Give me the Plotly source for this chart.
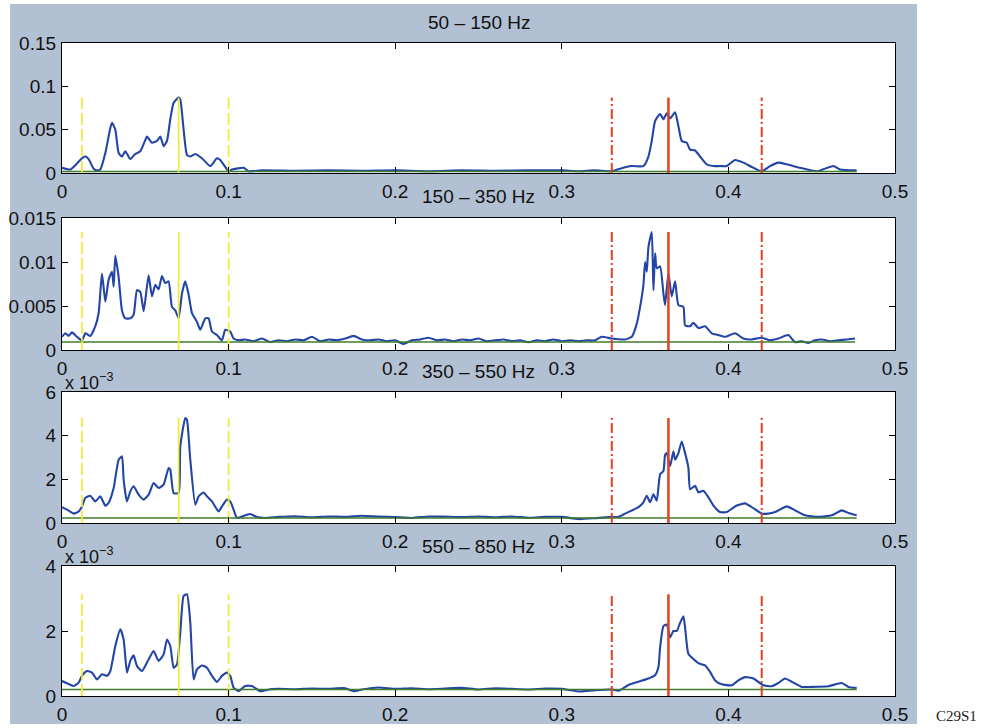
import plotly.graph_objects as go

# ---------------- data ----------------
band_titles = ["50 \u2013 150 Hz", "150 \u2013 350 Hz", "350 \u2013 550 Hz", "550 \u2013 850 Hz"]

p1_x = [0.000, 0.005, 0.009, 0.012, 0.014, 0.016, 0.019, 0.021, 0.023, 0.026, 0.029, 0.030, 0.032, 0.034,
        0.036, 0.038, 0.041, 0.044, 0.047, 0.050, 0.051, 0.054, 0.057, 0.059, 0.061, 0.063, 0.065, 0.067,
        0.070, 0.071, 0.073, 0.075, 0.077, 0.080, 0.084, 0.089, 0.093, 0.095, 0.098, 0.100, 0.102, 0.109,
        0.112, 0.120, 0.140, 0.160, 0.180, 0.200, 0.220, 0.240, 0.260, 0.280, 0.300, 0.310, 0.320, 0.330,
        0.335, 0.342, 0.349, 0.352, 0.354, 0.356, 0.359, 0.361, 0.363, 0.365, 0.368, 0.370, 0.372, 0.375,
        0.377, 0.380, 0.383, 0.387, 0.391, 0.395, 0.399, 0.404, 0.409, 0.414, 0.420, 0.425, 0.430, 0.435,
        0.443, 0.453, 0.463, 0.467, 0.477]
p1_y = [0.006, 0.004, 0.011, 0.017, 0.019, 0.016, 0.005, 0.003, 0.004, 0.023, 0.052, 0.058, 0.050, 0.023,
        0.019, 0.025, 0.016, 0.022, 0.025, 0.038, 0.042, 0.035, 0.037, 0.042, 0.031, 0.037, 0.062, 0.081,
        0.087, 0.085, 0.050, 0.021, 0.019, 0.022, 0.017, 0.008, 0.017, 0.015, 0.007, 0.002, 0.004, 0.006,
        0.002, 0.003, 0.0025, 0.003, 0.0025, 0.003, 0.002, 0.003, 0.0025, 0.003, 0.003, 0.002, 0.003, 0.002,
        0.005, 0.008, 0.008, 0.019, 0.037, 0.060, 0.068, 0.062, 0.069, 0.063, 0.070, 0.054, 0.037, 0.035,
        0.027, 0.026, 0.019, 0.010, 0.008, 0.008, 0.008, 0.015, 0.012, 0.007, 0.002, 0.008, 0.012, 0.010,
        0.006, 0.002, 0.008, 0.004, 0.003]

p2_x = [0.000, 0.002, 0.004, 0.006, 0.009, 0.012, 0.014, 0.017, 0.020, 0.022, 0.024, 0.026, 0.028, 0.030,
        0.031, 0.032, 0.034, 0.036, 0.038, 0.041, 0.043, 0.045, 0.047, 0.049, 0.052, 0.054, 0.056, 0.058,
        0.060, 0.062, 0.064, 0.066, 0.068, 0.070, 0.072, 0.074, 0.076, 0.078, 0.081, 0.083, 0.086, 0.088,
        0.090, 0.093, 0.096, 0.098, 0.101, 0.103, 0.106, 0.110, 0.115, 0.120, 0.125, 0.130, 0.135, 0.140,
        0.145, 0.150, 0.155, 0.160, 0.165, 0.170, 0.175, 0.180, 0.185, 0.190, 0.195, 0.200, 0.205, 0.210,
        0.215, 0.220, 0.225, 0.230, 0.235, 0.240, 0.245, 0.250, 0.255, 0.260, 0.265, 0.270, 0.275, 0.280,
        0.285, 0.290, 0.295, 0.300, 0.305, 0.310, 0.315, 0.320, 0.324, 0.330, 0.338, 0.342, 0.345, 0.347,
        0.349, 0.350, 0.351, 0.352, 0.354, 0.355, 0.356, 0.357, 0.359, 0.361, 0.362, 0.364, 0.366, 0.368,
        0.370, 0.373, 0.374, 0.377, 0.379, 0.382, 0.386, 0.390, 0.394, 0.398, 0.404, 0.409, 0.414, 0.420,
        0.425, 0.430, 0.436, 0.440, 0.444, 0.448, 0.452, 0.456, 0.461, 0.466, 0.471, 0.476]
p2_y = [0.0015, 0.0019, 0.0016, 0.0020, 0.0015, 0.0011, 0.0019, 0.0016, 0.0027, 0.0042, 0.0087, 0.0055,
        0.0080, 0.0089, 0.0072, 0.0107, 0.0083, 0.0045, 0.0036, 0.0036, 0.0040, 0.0068, 0.0066, 0.0044,
        0.0085, 0.0061, 0.0074, 0.0069, 0.0084, 0.0076, 0.0078, 0.0049, 0.0045, 0.0036, 0.0064, 0.0078,
        0.0063, 0.0042, 0.0032, 0.0023, 0.0036, 0.0036, 0.0021, 0.0017, 0.0011, 0.0023, 0.0021, 0.0013,
        0.0011, 0.0012, 0.0010, 0.0013, 0.0009, 0.0011, 0.0010, 0.0012, 0.0011, 0.0015, 0.0010, 0.0012,
        0.0011, 0.0013, 0.0016, 0.0012, 0.0011, 0.0012, 0.0010, 0.0011, 0.0007, 0.0011, 0.0012, 0.0014,
        0.0011, 0.0012, 0.0010, 0.0012, 0.0011, 0.0013, 0.0010, 0.0011, 0.0012, 0.0010, 0.0011, 0.0009,
        0.0011, 0.0010, 0.0012, 0.0010, 0.0011, 0.0010, 0.0011, 0.0011, 0.0015, 0.0013, 0.0012, 0.0015,
        0.0030, 0.0049, 0.0074, 0.0100, 0.0089, 0.0117, 0.0134, 0.0068, 0.0110, 0.0093, 0.0095, 0.0064,
        0.0051, 0.0087, 0.0061, 0.0078, 0.0051, 0.0049, 0.0028, 0.0027, 0.0031, 0.0025, 0.0027, 0.0019,
        0.0017, 0.0015, 0.0019, 0.0013, 0.0012, 0.0014, 0.0011, 0.0013, 0.0017, 0.0009, 0.0010, 0.0008,
        0.0011, 0.0012, 0.0010, 0.0011, 0.0012, 0.0013]

# panels 3 and 4 in units of 1e-3
p3_x = [0.000, 0.003, 0.007, 0.010, 0.012, 0.014, 0.017, 0.020, 0.023, 0.026, 0.028, 0.031, 0.034, 0.036,
        0.037, 0.039, 0.041, 0.043, 0.046, 0.049, 0.052, 0.055, 0.058, 0.061, 0.064, 0.065, 0.067, 0.070,
        0.071, 0.074, 0.075, 0.077, 0.080, 0.082, 0.085, 0.087, 0.090, 0.094, 0.096, 0.099, 0.101, 0.103,
        0.105, 0.108, 0.113, 0.117, 0.122, 0.130, 0.140, 0.150, 0.160, 0.170, 0.180, 0.190, 0.200, 0.210,
        0.220, 0.230, 0.240, 0.250, 0.260, 0.270, 0.280, 0.290, 0.300, 0.310, 0.320, 0.330, 0.334, 0.338,
        0.343, 0.346, 0.349, 0.351, 0.353, 0.355, 0.357, 0.359, 0.361, 0.362, 0.363, 0.365, 0.367, 0.368,
        0.370, 0.372, 0.374, 0.376, 0.377, 0.380, 0.382, 0.385, 0.388, 0.391, 0.395, 0.399, 0.402, 0.405,
        0.410, 0.414, 0.420, 0.424, 0.428, 0.435, 0.440, 0.446, 0.454, 0.462, 0.468, 0.472, 0.477]
p3_y = [0.73, 0.61, 0.43, 0.53, 0.76, 1.15, 1.25, 0.99, 1.22, 0.79, 0.92, 1.60, 2.90, 3.05,
        1.98, 0.99, 1.45, 1.68, 1.30, 1.07, 1.30, 1.83, 1.60, 1.76, 2.52, 2.44, 1.37, 1.37,
        3.51, 4.81, 4.73, 2.90, 0.84, 1.22, 1.40, 1.22, 0.99, 0.53, 0.76, 1.07, 0.99, 0.61,
        0.23, 0.30, 0.41, 0.27, 0.23, 0.28, 0.31, 0.26, 0.30, 0.28, 0.33, 0.29, 0.27, 0.23,
        0.30, 0.29, 0.27, 0.30, 0.26, 0.30, 0.24, 0.28, 0.28, 0.18, 0.22, 0.28, 0.28, 0.43,
        0.61, 0.73, 0.95, 1.25, 0.95, 1.32, 1.02, 2.23, 2.38, 3.13, 3.20, 2.60, 3.28, 2.90,
        3.20, 3.73, 3.20, 2.53, 1.55, 1.70, 1.40, 1.48, 1.18, 0.80, 0.50, 0.50, 0.65, 0.80,
        0.90, 0.73, 0.43, 0.43, 0.50, 0.76, 0.58, 0.35, 0.28, 0.35, 0.58, 0.46, 0.35]

p4_x = [0.000, 0.003, 0.007, 0.010, 0.012, 0.015, 0.018, 0.021, 0.024, 0.027, 0.029, 0.032, 0.035, 0.037,
        0.039, 0.041, 0.043, 0.045, 0.048, 0.051, 0.055, 0.058, 0.061, 0.063, 0.065, 0.067, 0.069, 0.071,
        0.073, 0.075, 0.077, 0.079, 0.081, 0.084, 0.087, 0.090, 0.093, 0.096, 0.099, 0.101, 0.103, 0.106,
        0.110, 0.114, 0.119, 0.125, 0.130, 0.140, 0.150, 0.160, 0.170, 0.175, 0.180, 0.190, 0.200, 0.210,
        0.220, 0.230, 0.240, 0.250, 0.260, 0.270, 0.280, 0.290, 0.300, 0.310, 0.320, 0.330, 0.334, 0.340,
        0.346, 0.352, 0.356, 0.358, 0.359, 0.361, 0.363, 0.365, 0.367, 0.369, 0.371, 0.373, 0.374, 0.376,
        0.379, 0.382, 0.386, 0.389, 0.392, 0.396, 0.402, 0.406, 0.410, 0.415, 0.421, 0.426, 0.430, 0.434,
        0.438, 0.444, 0.450, 0.460, 0.468, 0.472, 0.477]
p4_y = [0.46, 0.39, 0.31, 0.41, 0.62, 0.77, 0.72, 0.51, 0.67, 0.62, 0.77, 1.54, 2.05, 1.74,
        0.72, 1.08, 1.25, 0.92, 0.77, 1.03, 1.38, 1.08, 1.28, 1.74, 1.54, 0.87, 0.97, 1.95,
        3.08, 3.13, 2.26, 0.51, 0.82, 0.94, 0.87, 0.62, 0.43, 0.62, 0.72, 0.62, 0.26, 0.15,
        0.31, 0.31, 0.15, 0.21, 0.22, 0.21, 0.23, 0.22, 0.24, 0.15, 0.20, 0.26, 0.22, 0.24,
        0.21, 0.23, 0.25, 0.20, 0.24, 0.22, 0.20, 0.23, 0.22, 0.14, 0.18, 0.20, 0.16, 0.34,
        0.44, 0.54, 0.64, 0.89, 1.49, 2.15, 2.20, 1.80, 2.00, 2.00, 2.25, 2.45, 2.10, 1.29,
        1.14, 1.01, 0.94, 0.74, 0.48, 0.36, 0.33, 0.48, 0.58, 0.54, 0.33, 0.30, 0.40, 0.54,
        0.44, 0.28, 0.28, 0.30, 0.40, 0.28, 0.25]

thresholds = [0.0018, 0.0009, 0.23, 0.20]
y_ranges = [[0, 0.15], [0, 0.015], [0, 6], [0, 4]]
y_ticks = [[0, 0.05, 0.1, 0.15], [0, 0.005, 0.01, 0.015], [0, 2, 4, 6], [0, 2, 4]]
y_ticklabels = [["0", "0.05", "0.1", "0.15"], ["0", "0.005", "0.01", "0.015"], ["0", "2", "4", "6"], ["0", "2", "4"]]
x_ticks = [0, 0.1, 0.2, 0.3, 0.4, 0.5]
x_ticklabels = ["0", "0.1", "0.2", "0.3", "0.4", "0.5"]
exponent_label = [None, None, "x 10<sup>\u22123</sup>", "x 10<sup>\u22123</sup>"]

yellow_marks = [0.012, 0.070, 0.100]
yellow_dash = ["12px,4px", "solid", "12px,4px"]
red_marks = [0.330, 0.364, 0.420]
red_dash = ["10px,3px,2px,3px", "solid", "10px,3px,2px,3px"]

panels_x = [p1_x, p2_x, p3_x, p4_x]
panels_y = [p1_y, p2_y, p3_y, p4_y]

# ---------------- layout geometry ----------------
W, H = 984, 728
left_px, right_px = 62, 895
panel_px = [(43, 173), (218, 350), (392, 523), (566, 696)]
title_px = [22, 197, 371, 546]

BLUE = "#2346a6"
GREEN = "#3f7d2c"
YELLOW = "#f2ea2e"
RED = "#e2401f"
BG = "#b2c0d3"
FONT = "Liberation Sans, Arial, sans-serif"
FS = 19

fig = go.Figure()
shapes = [dict(type="rect", xref="paper", yref="paper",
               x0=10 / W, x1=917 / W, y0=1 - 724 / H, y1=1 - 4 / H,
               fillcolor=BG, line=dict(width=0), layer="below")]
for top, bot in panel_px:
    shapes.append(dict(type="rect", xref="paper", yref="paper",
                       x0=left_px / W, x1=right_px / W, y0=1 - bot / H, y1=1 - top / H,
                       fillcolor="white", line=dict(width=0), layer="below"))

layout = dict(
    width=W, height=H, margin=dict(l=0, r=0, t=0, b=0, pad=0),
    paper_bgcolor="white", plot_bgcolor="white", showlegend=False,
    font=dict(family=FONT, size=FS, color="#111111"),
    shapes=shapes, annotations=[],
)

for i in range(4):
    sfx = "" if i == 0 else str(i + 1)
    xa, ya = "x" + sfx, "y" + sfx
    top, bot = panel_px[i]
    xs, ys = panels_x[i], panels_y[i]
    ymax = max(ys)

    fig.add_trace(go.Scatter(x=xs, y=ys, mode="lines",
                             line=dict(color=BLUE, width=2.1, shape="spline", smoothing=0.5),
                             xaxis=xa, yaxis=ya, hoverinfo="skip"))
    fig.add_trace(go.Scatter(x=[xs[0], xs[-1]], y=[thresholds[i], thresholds[i]], mode="lines",
                             line=dict(color=GREEN, width=1.5), xaxis=xa, yaxis=ya))
    for v, d in zip(yellow_marks, yellow_dash):
        fig.add_trace(go.Scatter(x=[v, v], y=[0, ymax], mode="lines",
                                 line=dict(color=YELLOW, width=1.7, dash=d), xaxis=xa, yaxis=ya))
    for v, d in zip(red_marks, red_dash):
        fig.add_trace(go.Scatter(x=[v, v], y=[0, ymax], mode="lines",
                                 line=dict(color=RED, width=2.5 if d == "solid" else 2.0, dash=d),
                                 xaxis=xa, yaxis=ya))

    common = dict(showline=True, linecolor="black", linewidth=1.2, mirror="ticks",
                  ticks="inside", ticklen=6, tickcolor="black", showgrid=False, zeroline=False,
                  automargin=False,
                  tickfont=dict(family=FONT, size=FS, color="#111111"))
    layout["xaxis" + sfx] = dict(common, domain=[left_px / W, right_px / W], range=[0, 0.5],
                                 tickvals=x_ticks, ticktext=x_ticklabels, anchor=ya,
                                 ticklabelstandoff=1)
    layout["yaxis" + sfx] = dict(common, domain=[1 - bot / H, 1 - top / H], range=y_ranges[i],
                                 tickvals=y_ticks[i], ticktext=y_ticklabels[i], anchor=xa,
                                 ticklabelstandoff=1)
    layout["annotations"].append(dict(text=band_titles[i], xref="paper", yref="paper",
                                      x=(left_px + right_px) / 2 / W, y=1 - title_px[i] / H,
                                      xanchor="center", yanchor="middle", showarrow=False,
                                      font=dict(family=FONT, size=FS, color="#111111")))
    if exponent_label[i]:
        layout["annotations"].append(dict(text=exponent_label[i], xref="paper", yref="paper",
                                          x=63 / W, y=1 - (top - 11) / H, xanchor="left",
                                          yanchor="middle", showarrow=False,
                                          font=dict(family=FONT, size=18, color="#111111")))

layout["annotations"].append(dict(text="C29S1", xref="paper", yref="paper", x=956 / W, y=1 - 716 / H,
                                  xanchor="center", yanchor="middle", showarrow=False,
                                  font=dict(family="Liberation Serif, serif", size=15, color="#222222")))

fig.update_layout(**layout)
fig.write_html("out.html",
               post_script="document.body.style.margin='0';document.body.style.overflow='hidden';")
